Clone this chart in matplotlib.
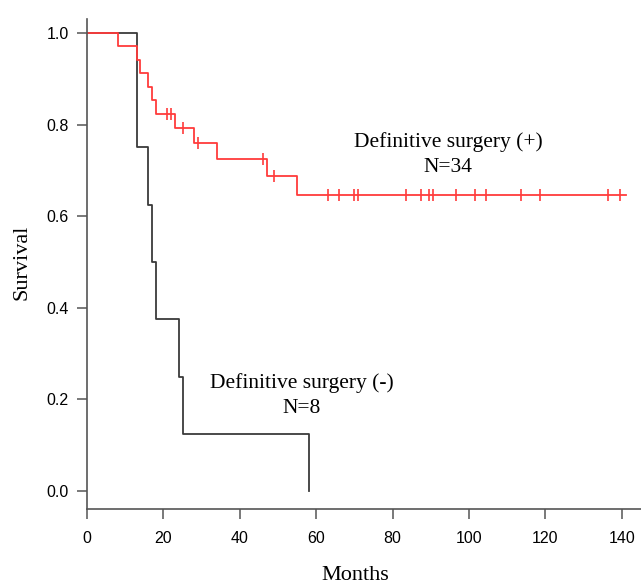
import numpy as np
import matplotlib
matplotlib.use("Agg")
import matplotlib.pyplot as plt

# Kaplan-Meier steps
pos_times = [0, 8, 13, 14, 16, 17, 18, 23, 28, 34, 47, 55]
pos_surv = [1.0, 0.971, 0.941, 0.912, 0.882, 0.853, 0.824, 0.792, 0.759, 0.724, 0.688, 0.647]
pos_censor = [21, 22, 25, 29, 46, 49, 63, 66, 70, 71, 83.5, 87.5, 89.5, 90.5, 96.5,
              101.5, 104.5, 113.5, 118.5, 136.5, 139.5]
pos_end = 141

neg_times = [0, 13, 16, 17, 18, 24, 25, 58]
neg_surv = [1.0, 0.75, 0.625, 0.5, 0.375, 0.25, 0.125, 0.0]
neg_end = 58

x_ticks = [0, 20, 40, 60, 80, 100, 120, 140]
y_ticks = [0.0, 0.2, 0.4, 0.6, 0.8, 1.0]

red = '#ff3b3b'
dark = '#3a3a3a'
serif = 'Liberation Serif'
sans = 'Liberation Sans'


def step_value(times, surv, t):
  i = np.searchsorted(times, t, side='right') - 1
  return surv[i]


fig = plt.figure(figsize=(6.41, 5.85), dpi=100)
ax = fig.add_axes([87 / 641, 1 - 509 / 585, 1 - 87 / 641, (509 - 19) / 585])

# negative group
ax.step(neg_times + [neg_end], neg_surv + [neg_surv[-1]], where='post', color=dark, lw=1.3)

# positive group
ax.step(pos_times + [pos_end], pos_surv + [pos_surv[-1]], where='post', color=red, lw=1.3)
cy = [step_value(pos_times, pos_surv, t) for t in pos_censor]
ax.plot(pos_censor, cy, ls='none', marker='|', color=red, ms=8, mew=1.2)

ax.set_xlim(0, (641 - 87) / 3.82)
ax.set_ylim(-18 / 458, 1 + 14 / 458)

for s in ['top', 'right']:
  ax.spines[s].set_visible(False)
for s in ['left', 'bottom']:
  ax.spines[s].set_color('#555555')
  ax.spines[s].set_linewidth(1.2)

ax.set_xticks(x_ticks)
ax.set_yticks(y_ticks)
ax.set_yticklabels(['%.1f' % v for v in y_ticks])
ax.tick_params(axis='x', length=7, width=1.1, color='#555555', pad=9, labelsize=11.5)
ax.tick_params(axis='y', length=7, width=1.1, color='#555555', pad=6, labelsize=11.5)
for lab in ax.get_xticklabels() + ax.get_yticklabels():
  lab.set_family(sans)

ax.text(94.5, 0.735, 'Definitive surgery (+)\nN=34', ha='center', va='center',
        family=serif, fontsize=15.5, linespacing=1.45)
ax.text(56.3, 0.209, 'Definitive surgery (-)\nN=8', ha='center', va='center',
        family=serif, fontsize=15.5, linespacing=1.45)

fig.text(355 / 641, 1 - 575 / 585, 'Months', ha='center', va='center', family=serif, fontsize=16)
fig.text(22 / 641, 1 - 262 / 585, 'Survival', ha='center', va='center', rotation=90,
         family=serif, fontsize=16)

fig.savefig('out.png', dpi=100)
